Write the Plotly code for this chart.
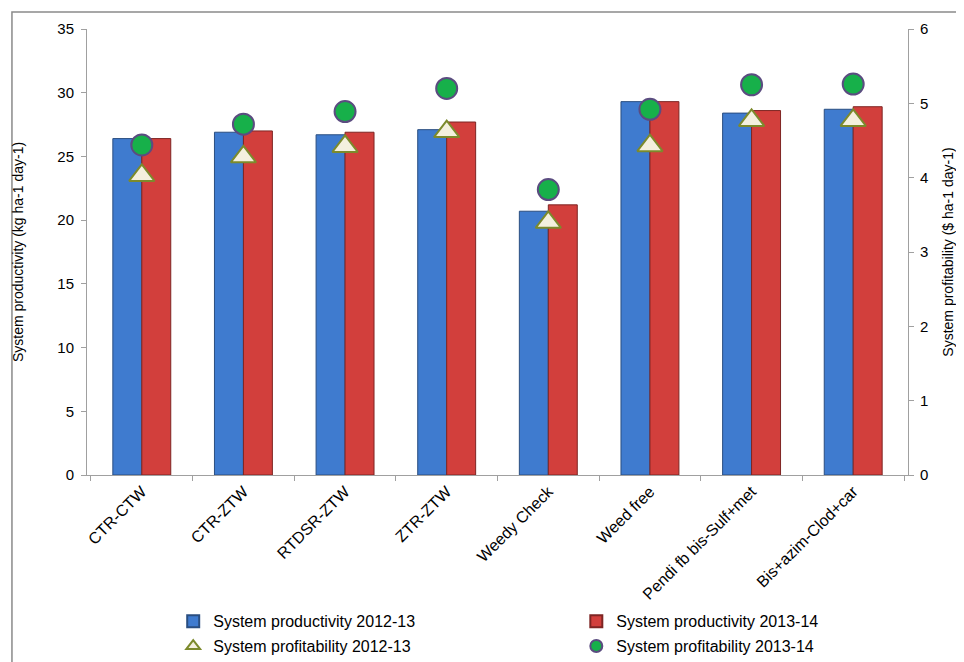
import plotly.graph_objects as go

categories = ["CTR-CTW", "CTR-ZTW", "RTDSR-ZTW", "ZTR-ZTW", "Weedy Check",
              "Weed free", "Pendi fb bis-Sulf+met", "Bis+azim-Clod+car"]
prod_2012 = [26.4, 26.9, 26.7, 27.1, 20.7, 29.3, 28.4, 28.7]
prod_2013 = [26.4, 27.0, 26.9, 27.7, 21.2, 29.3, 28.6, 28.9]
profit_2012 = [4.03, 4.28, 4.42, 4.62, 3.40, 4.43, 4.77, 4.77]
profit_2013 = [4.44, 4.72, 4.89, 5.20, 3.84, 4.92, 5.25, 5.26]

font = "Liberation Sans, Arial, sans-serif"

fig = go.Figure()
fig.add_trace(go.Bar(x=categories, y=prod_2012, name="System productivity 2012-13",
                     legend="legend", legendgroup="a",
                     marker=dict(color="#3F7BCF", line=dict(color="#2A4E80", width=1))))
fig.add_trace(go.Bar(x=categories, y=prod_2013, name="System productivity 2013-14",
                     legend="legend2", legendgroup="b",
                     marker=dict(color="#D23F3C", line=dict(color="#7E2523", width=1))))
fig.add_trace(go.Scatter(x=categories, y=profit_2012, name="System profitability 2012-13",
                         mode="markers", yaxis="y2", legend="legend", legendgroup="c",
                         marker=dict(symbol="triangle-up", size=22, color="#F4F0DE",
                                     line=dict(color="#7C8A2C", width=2))))
fig.add_trace(go.Scatter(x=categories, y=profit_2013, name="System profitability 2013-14",
                         mode="markers", yaxis="y2", legend="legend2", legendgroup="d",
                         marker=dict(symbol="circle", size=21, color="#17B04A",
                                     line=dict(color="#5B4C80", width=2))))

legend_common = dict(orientation="v", yanchor="top", xanchor="left", y=-0.29,
                     font=dict(size=16, family=font), tracegroupgap=1,
                     itemsizing="constant", bgcolor="rgba(0,0,0,0)")

fig.update_layout(
    width=964, height=662,
    margin=dict(l=79, r=64, t=21, b=195, autoexpand=False),
    paper_bgcolor="white", plot_bgcolor="white",
    font=dict(family=font, size=14, color="black"),
    barmode="group", bargap=0.43, bargroupgap=0,
    showlegend=True,
    legend=dict(x=0.105, **legend_common),
    legend2=dict(x=0.596, **legend_common),
    xaxis=dict(showline=True, linecolor="#A0A0A0", ticks="outside", tickcolor="#A0A0A0",
               ticklen=5, tickson="boundaries", tickangle=-45, tickfont=dict(size=16),
               showgrid=False, automargin=False),
    yaxis=dict(range=[0, 35], dtick=5, showline=True, linecolor="#A0A0A0",
               ticks="outside", tickcolor="#A0A0A0", ticklen=5, showgrid=False,
               zeroline=False, tickfont=dict(size=15), automargin=False,
               ticklabelstandoff=4,
               title=dict(text="System productivity (kg ha-1 day-1)", font=dict(size=14), standoff=30)),
    yaxis2=dict(range=[0, 6], dtick=1, overlaying="y", side="right", showline=True,
                linecolor="#A0A0A0", ticks="outside", tickcolor="#A0A0A0", ticklen=5,
                showgrid=False, zeroline=False, tickfont=dict(size=15), automargin=False,
                ticklabelstandoff=3,
                title=dict(text="System profitability ($ ha-1 day-1)", font=dict(size=14), standoff=15)),
    shapes=[dict(type="rect", xref="paper", yref="paper", x0=-0.0914, x1=1.073,
                 y0=-0.45, y1=1.038, line=dict(color="#8A8A8A", width=1.5))],
)

fig.write_html("out.html")
